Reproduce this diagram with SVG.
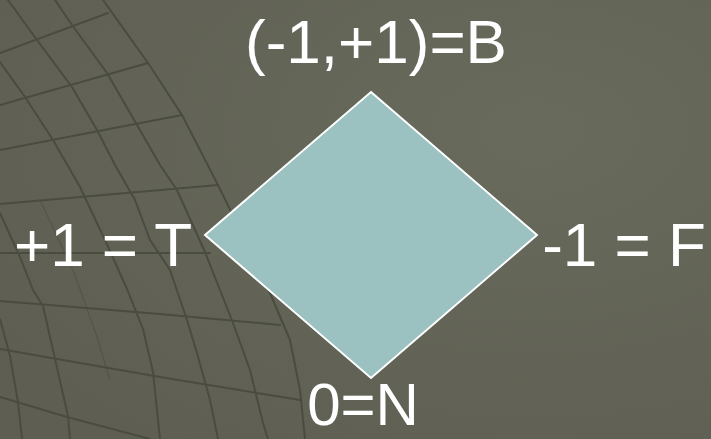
<svg xmlns="http://www.w3.org/2000/svg" width="711" height="439" viewBox="0 0 711 439">
  <defs>
    <radialGradient id="bg" cx="0.75" cy="0.3" r="0.9">
      <stop offset="0" stop-color="#686A5C"/>
      <stop offset="1" stop-color="#5E5F52"/>
    </radialGradient>
    <style>
      .grid { fill: none; stroke: #4B4C40; stroke-width: 2; stroke-linejoin: round; stroke-linecap: round; }
      .faint { stroke-opacity: 0.5; stroke-width: 1.4; }
      .label { font-family: "Liberation Sans", Arial, sans-serif; font-size: 62px; fill: #FFFFFF; text-anchor: middle; }
      .diamond { fill: #9BC1C1; stroke: #FFFFFF; stroke-width: 2; stroke-linejoin: miter; }
    </style>
  </defs>

  <rect width="711" height="439" fill="url(#bg)"/>

  <g id="background-grid">
    <!-- longitudes -->
    <polyline class="grid" points="103,0 148,63 182,115 218,185 245,240 270,293 290,340 300,390 305,439"/>
    <polyline class="grid" points="55,0 72,25 107,73 137,125 160,165 177,190 205,252 220,290 233,323 250,370 263,423 268,439"/>
    <polyline class="grid" points="8,0 37,40 72,87 97,130 115,165 135,200 150,240 170,270 187,320 197,353 210,400 218,439"/>
    <polyline class="grid" points="0,62 25,97 53,140 80,187 105,240 127,289 143,329 153,372 160,439"/>
    <polyline class="grid faint" points="40,200 73,270 97,337 110,380"/>
    <polyline class="grid" points="0,213 20,257 33,290 43,306 55,359 68,416 70,439"/>
    <polyline class="grid" points="0,319 10,356 18,402 22,439"/>
    <!-- latitudes -->
    <polyline class="grid" points="0,53 108,13"/>
    <polyline class="grid" points="0,105 148,63"/>
    <polyline class="grid" points="0,150 182,115"/>
    <polyline class="grid" points="0,204 218,185"/>
    <polyline class="grid" points="0,253 210,253"/>
    <polyline class="grid" points="0,301 160,314 280,325"/>
    <polyline class="grid" points="0,349 160,377 300,400"/>
    <polyline class="grid" points="0,397 67,417 150,439"/>
  </g>

  <g id="connectors"/>

  <g id="node-diamond">
    <polygon class="diamond" points="371,92 537,235 371,378 205,235"/>
  </g>

  <g id="label-B">
    <text class="label" x="376" y="63">(-1,+1)=B</text>
  </g>
  <g id="label-T">
    <text class="label" x="103" y="266">+1 = T</text>
  </g>
  <g id="label-F">
    <text class="label" x="624" y="266">-1 = F</text>
  </g>
  <g id="label-N">
    <text class="label" x="363" y="425" style="font-size:60px">0=N</text>
  </g>
</svg>
